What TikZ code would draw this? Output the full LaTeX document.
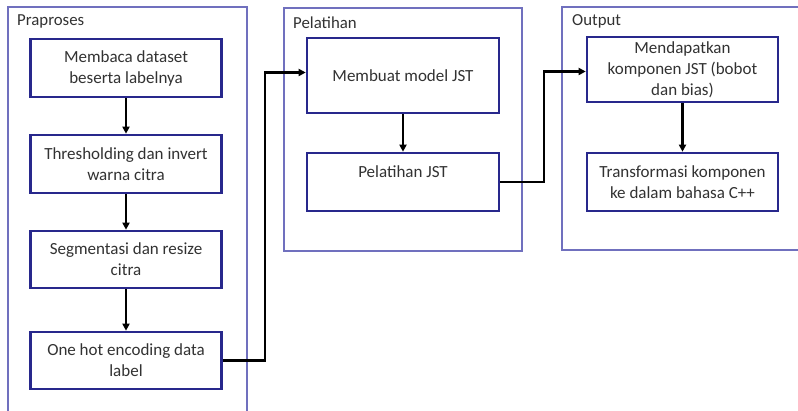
\documentclass[tikz,border=0pt]{standalone}
\usepackage{fontspec}
\setmainfont{Carlito}
\usetikzlibrary{positioning,calc,arrows.meta}
\definecolor{framecol}{RGB}{112,112,190}
\definecolor{boxcol}{RGB}{40,40,140}
\definecolor{txtcol}{RGB}{50,50,50}

\begin{document}
\begin{tikzpicture}[x=1pt, y=-1pt,
    stepbox/.style={rectangle, draw=boxcol, line width=2.6pt, fill=white, text=txtcol, align=center, minimum width=191pt, inner sep=2pt, font=\fontsize{17}{21}\selectfont},
    grouplbl/.style={anchor=west, text=txtcol, inner sep=0pt, font=\fontsize{16.8}{19}\selectfont},
    flow/.style={-{Triangle[length=7pt, width=7pt]}, line width=2.2pt, black}]
            \useasboundingbox (0,0) rectangle (798,411);
            \clip (0,0) rectangle (798,411);

            % group frames
            \draw [framecol, line width=1.1pt] (8,7) rectangle (247,420);
            \draw [framecol, line width=1.1pt] (284,8) rectangle (522,251);
            \draw [framecol, line width=1.1pt] (562,7) rectangle (810,250);

            \node (lpra) [grouplbl] at (17,21) {Praproses};
            \node (lpel) [grouplbl] at (293,23) {Pelatihan};
            \node (lout) [grouplbl] at (572,21) {Output};

            % praproses
            \node (b1) [stepbox, minimum height=58pt] at (126,68) {Membaca dataset\\beserta labelnya};
            \node (b2) [stepbox, minimum height=58pt] at (126,164) {Thresholding dan invert\\warna citra};
            \node (b3) [stepbox, minimum height=57pt] at (126,259.5) {Segmentasi dan resize\\citra};
            \node (b4) [stepbox, minimum height=57pt] at (126,360.5) {One hot encoding data\\label};

            % pelatihan
            \node (pA) [stepbox, minimum width=192pt, minimum height=75pt] at (403,75.5) {Membuat model JST};
            \node (pB) [stepbox, minimum width=192pt, minimum height=58pt] at (403,182) {Pelatihan JST\\\mbox{}};

            % output
            \node (oC) [stepbox, minimum height=65pt] at (682.5,69.5) {Mendapatkan\\komponen JST (bobot\\dan bias)};
            \node (oD) [stepbox, minimum height=58pt] at (682.5,182) {Transformasi komponen\\ke dalam bahasa C++};

            \coordinate (j1) at (265,0);
            \coordinate (j2) at (544,0);

            \draw [flow] (b1) -- (b2);
            \draw [flow] (b2) -- (b3);
            \draw [flow] (b3) -- (b4);
            \draw [flow] (pA) -- (pB);
            \draw [flow] (oC) -- (oD);

            \draw [flow] (b4.east) -- (b4.east -| j1) |- ([yshift=3pt]pA.west);
            \draw [flow] (pB.east) -- (pB.east -| j2) |- ([yshift=-2pt]oC.west);
        \end{tikzpicture}
\end{document}
